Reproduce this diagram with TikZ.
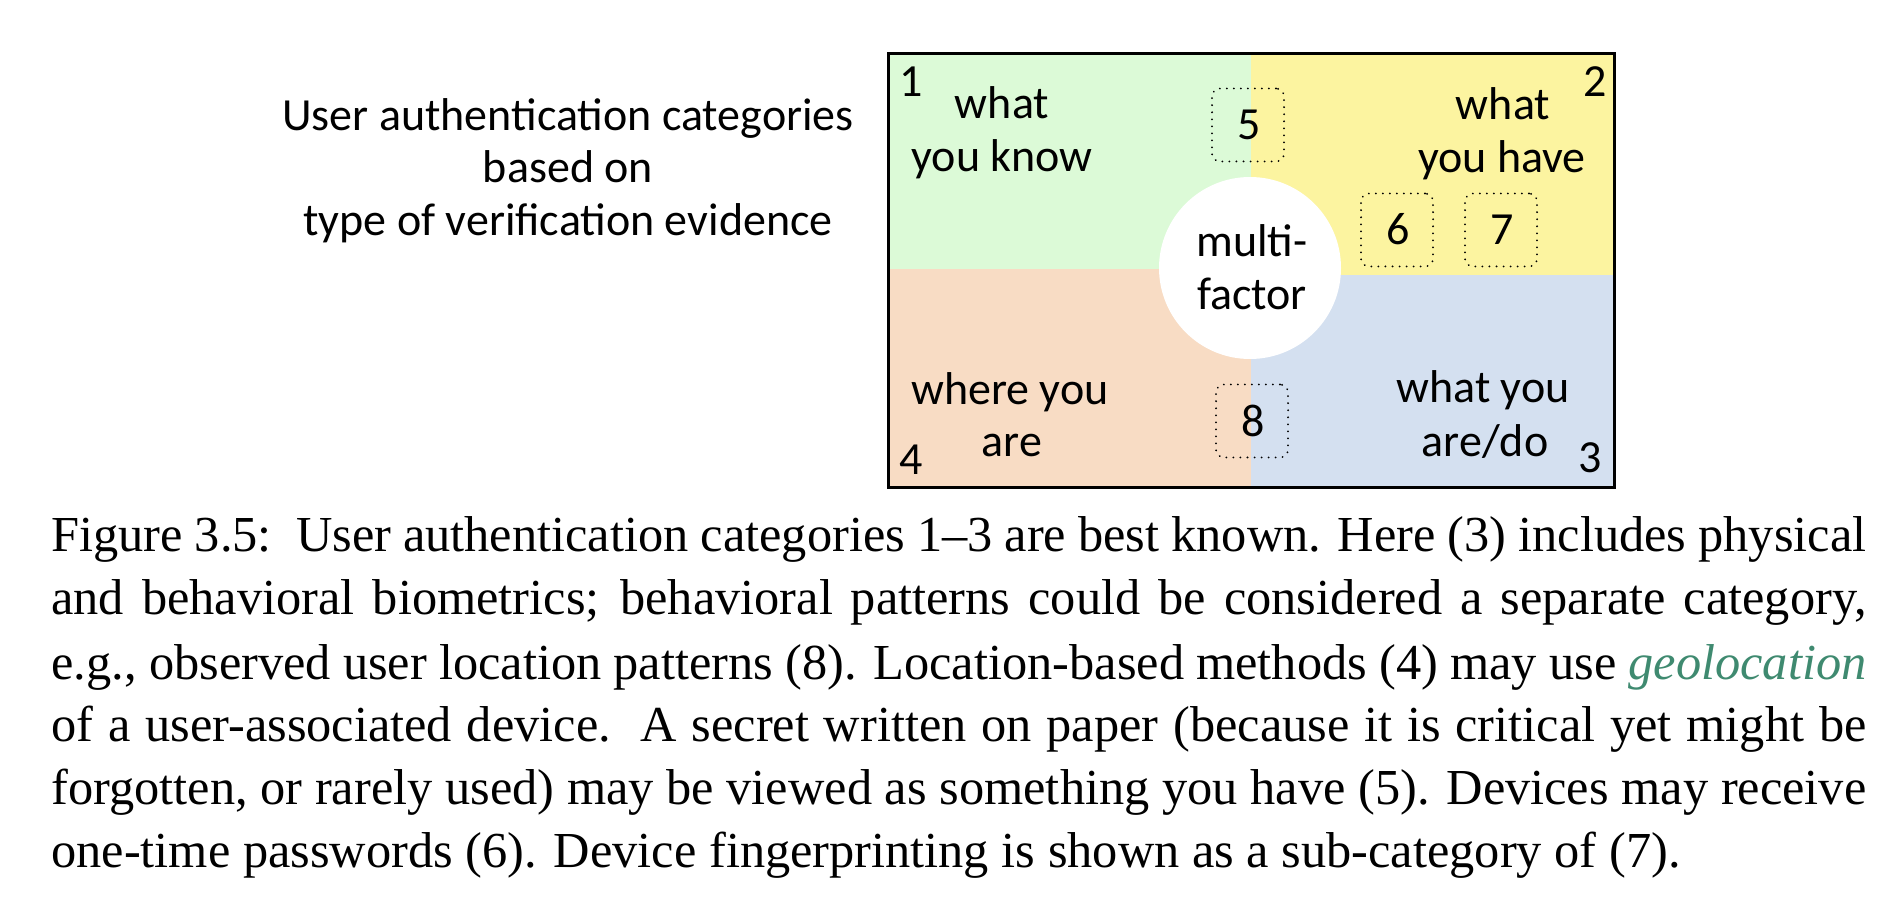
\documentclass[tikz,border=0pt]{standalone}
\usepackage{fontspec}
\setmainfont{Liberation Serif}
\newfontfamily\calfont{Carlito}
\definecolor{qgreen}{RGB}{220,250,215}
\definecolor{qyellow}{RGB}{252,244,160}
\definecolor{qpeach}{RGB}{248,220,196}
\definecolor{qblue}{RGB}{212,224,240}
\definecolor{geo}{RGB}{63,138,112}
\begin{document}
\begin{tikzpicture}[x=0.5pt,y=-0.5pt,
  lbl/.style={font=\calfont\fontsize{23}{27}\selectfont, inner sep=0, anchor=base},
  capline/.style={font=\fontsize{25.2}{31.2}\selectfont, inner sep=0, anchor=base west},
  dotbox/.style={draw, line width=1pt, dash pattern=on 0.01pt off 3.5pt, line cap=round,
    rounded corners=4pt, minimum width=36pt, minimum height=36.5pt, inner sep=0}]
\useasboundingbox (0,0) rectangle (1902,898);
% quadrants
\fill[qgreen]  (889,55)  rectangle (1251,269);
\fill[qyellow] (1251,55) rectangle (1613,275);
\fill[qpeach]  (889,269) rectangle (1251,488);
\fill[qblue]   (1251,275) rectangle (1613,488);
\draw[line width=1.5pt] (888,54) rectangle (1614,488);
% centre circle
\node[circle, fill=white, minimum size=91pt, inner sep=0] (mf) at (1250,268) {};
% dotted boxes
\node[dotbox] (b5) at (1248,125) {};
\node[dotbox] (b6) at (1397,230) {};
\node[dotbox] (b7) at (1501,230) {};
\node[dotbox] (b8) at (1252,421) {};
% left title
\node[lbl] (t1) at (568,131) {User authentication categories};
\node[lbl] (t2) at (568,183) {based on};
\node[lbl] (t3) at (568,236) {type of verification evidence};
% quadrant labels
\node[lbl] (n1) at (911,97) {1};
\node[lbl] (n2) at (1595,97) {2};
\node[lbl] (n3) at (1590,473) {3};
\node[lbl] (n4) at (911,475) {4};
\node[lbl] (k1) at (1002,119) {what};
\node[lbl] (k2) at (1002,172) {you know};
\node[lbl] (h1) at (1503,120) {what};
\node[lbl] (h2) at (1502,173) {you have};
\node[lbl] (m1) at (1252,257) {multi-};
\node[lbl] (m2) at (1252,310) {factor};
\node[lbl] (w1) at (1010,405) {where you};
\node[lbl] (w2) at (1012,457) {are};
\node[lbl] (a1) at (1483,403) {what you};
\node[lbl] (a2) at (1485,457) {are/do};
\node[lbl] (l5) at (1249,140) {5};
\node[lbl] (l6) at (1398,245) {6};
\node[lbl] (l7) at (1502,245) {7};
\node[lbl] (l8) at (1253,437) {8};
% caption
\node[capline] (c1) at (51,552) {\makebox[907.5pt][s]{Figure 3.5:\ \ User authentication categories 1--3 are best known. Here (3) includes physical}};
\node[capline] (c2) at (51,615) {\makebox[907.5pt][s]{and behavioral biometrics; behavioral patterns could be considered a separate category,}};
\node[capline] (c3) at (51,679) {\makebox[907.5pt][s]{e.g., observed user location patterns (8). Location-based methods (4) may use \textcolor{geo}{\itshape geolocation}}};
\node[capline] (c4) at (51,741) {\makebox[907.5pt][s]{of a user-associated device.\ \ A secret written on paper (because it is critical yet might be}};
\node[capline] (c5) at (51,804) {\makebox[907.5pt][s]{forgotten, or rarely used) may be viewed as something you have (5). Devices may receive}};
\node[capline] (c6) at (51,867) {one-time passwords (6). Device fingerprinting is shown as a sub-category of (7).};
\end{tikzpicture}
\end{document}
